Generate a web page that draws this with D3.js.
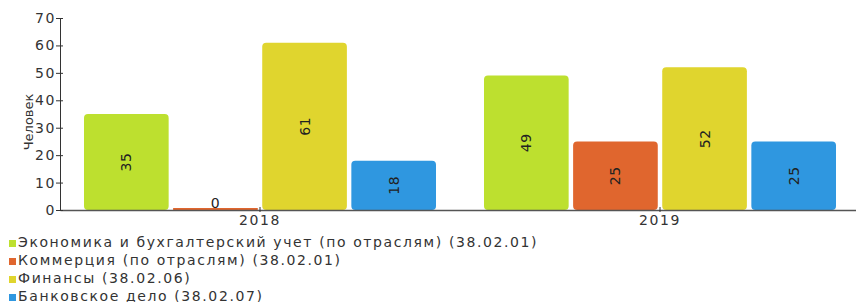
<!DOCTYPE html>
<html>
<head>
<meta charset="utf-8">
<script src="https://cdn.jsdelivr.net/npm/d3@7"></script>
<style>
  body { margin: 0; background: #fff; }
  text { font-family: "DejaVu Sans", Verdana, sans-serif; }
</style>
</head>
<body>
<svg id="chart"></svg>
<script>
// data
const years = ["2018", "2019"];
const programs = [
  "Экономика и бухгалтерский учет (по отраслям) (38.02.01)",
  "Коммерция (по отраслям) (38.02.01)",
  "Финансы (38.02.06)",
  "Банковское дело (38.02.07)"
];
const values2018 = [35, 0, 61, 18];
const values2019 = [49, 25, 52, 25];
const yTicks = [0, 10, 20, 30, 40, 50, 60, 70];
const colors = ["#bde02f", "#e0662e", "#e0d52e", "#2f97e0"];

const valuesByYear = { "2018": values2018, "2019": values2019 };

const width = 856, height = 302;
const margin = { top: 18, right: 0, bottom: 92, left: 60 };
const spacing = "1.6px";

const svg = d3.select("#chart")
  .attr("width", width)
  .attr("height", height);

const x0 = d3.scaleBand()
  .domain(years)
  .range([margin.left, 860])
  .paddingInner(0)
  .paddingOuter(0);

const x1 = d3.scaleBand()
  .domain(d3.range(programs.length))
  .range([24, x0.bandwidth() - 24])
  .paddingInner(0.05);

const y = d3.scaleLinear()
  .domain([0, 70])
  .range([height - margin.bottom, margin.top]);

// bars
const groups = svg.append("g")
  .selectAll("g")
  .data(years)
  .join("g")
  .attr("transform", d => `translate(${x0(d)},0)`);

groups.selectAll("rect")
  .data(yr => valuesByYear[yr].map((v, i) => ({ v, i })))
  .join("rect")
  .attr("x", d => x1(d.i))
  .attr("width", x1.bandwidth())
  .attr("y", d => d.v > 0 ? y(d.v) : y(0) - 2)
  .attr("height", d => d.v > 0 ? y(0) - y(d.v) : 2)
  .attr("rx", d => d.v > 0 ? 4 : 0)
  .attr("fill", d => colors[d.i]);

// value labels
groups.selectAll("text")
  .data(yr => valuesByYear[yr].map((v, i) => ({ v, i })))
  .join("text")
  .attr("font-size", 14)
  .attr("letter-spacing", "0.6px")
  .attr("fill", "#222")
  .attr("text-anchor", "middle")
  .attr("transform", d => {
    const cx = x1(d.i) + x1.bandwidth() / 2;
    if (d.v === 0) return `translate(${cx},${y(0) - 2})`;
    const cy = (y(0) + y(d.v)) / 2;
    return `translate(${cx + 5},${cy}) rotate(-90)`;
  })
  .text(d => d.v);

// x axis
const xAxis = svg.append("g")
  .attr("transform", `translate(0,${y(0)})`)
  .call(d3.axisBottom(x0).tickSize(2).tickSizeOuter(0));
xAxis.select(".domain").attr("stroke", "#555").attr("stroke-width", 1.5);
xAxis.selectAll(".tick line").attr("stroke", "#333").attr("y1", -3);
xAxis.selectAll("text")
  .attr("font-size", 14)
  .attr("letter-spacing", spacing)
  .attr("fill", "#333")
  .attr("y", 15)
  .attr("dy", 0)
  .attr("font-family", "DejaVu Sans, Verdana, sans-serif");

// y axis
const yAxis = svg.append("g")
  .attr("transform", `translate(${margin.left},0)`)
  .call(d3.axisLeft(y).tickValues(yTicks).tickSize(4).tickSizeOuter(0));
yAxis.select(".domain").attr("stroke", "#333");
yAxis.selectAll(".tick line").attr("stroke", "#333").attr("x2", 3).attr("x1", -4);
yAxis.selectAll("text")
  .attr("font-size", 14)
  .attr("letter-spacing", spacing)
  .attr("fill", "#333")
  .attr("x", -4)
  .attr("font-family", "DejaVu Sans, Verdana, sans-serif");

svg.append("text")
  .attr("transform", `translate(33,${(y(0) + y(70)) / 2 + 8}) rotate(-90)`)
  .attr("text-anchor", "middle")
  .attr("font-size", 13)
  .attr("fill", "#333")
  .text("Человек");

// legend
const legend = svg.append("g")
  .selectAll("g")
  .data(programs)
  .join("g")
  .attr("transform", (d, i) => `translate(9,${247 + i * 18})`);

legend.append("rect")
  .attr("y", -7)
  .attr("width", 7)
  .attr("height", 7)
  .attr("fill", (d, i) => colors[i]);

legend.append("text")
  .attr("x", 9)
  .attr("y", 0)
  .attr("font-size", 14)
  .attr("letter-spacing", spacing)
  .attr("fill", "#333")
  .text(d => d);
</script>
</body>
</html>
